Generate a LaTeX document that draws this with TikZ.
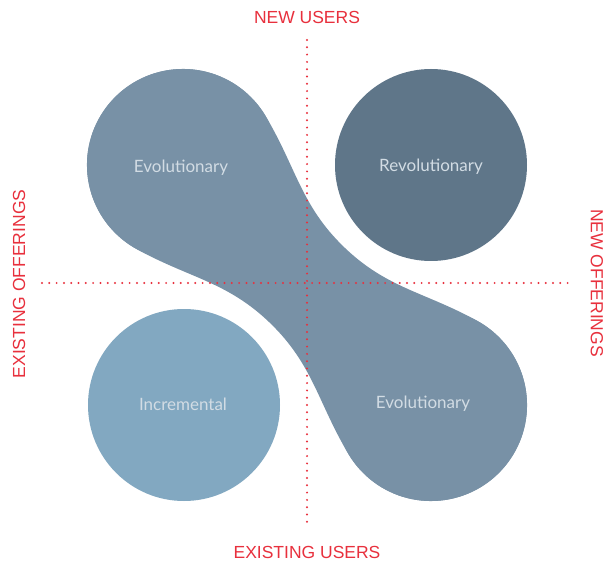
\documentclass[tikz,border=0pt]{standalone}
\usepackage{fontspec}
\setmainfont{Liberation Sans}
\newfontfamily\innerfont{Lato}
\definecolor{evo}{HTML}{7891A6}
\definecolor{rev}{HTML}{5F7689}
\definecolor{inc}{HTML}{82A8C1}
\definecolor{innertext}{HTML}{D2DCE4}
\definecolor{axisred}{HTML}{E8303D}
\begin{document}
\begin{tikzpicture}[x=1pt,y=-1pt,
  blob/.style={circle, minimum size=192, inner sep=0pt, text=innertext,
    font=\innerfont\fontsize{17}{20}\selectfont},
  axislabel/.style={text=axisred, inner sep=0pt,
    font=\fontsize{17.5}{20}\selectfont},
  dotline/.style={draw=axisred, line width=2.2pt, line cap=round,
    dash pattern=on 0pt off 7.3pt}]
\useasboundingbox (0,0) rectangle (608,564);
\fill[white] (0,0) rectangle (608,564);
% neck joining the two evolutionary circles
\begin{scope}[shift={(307,285)}, rotate=-44.06]
\fill[evo] (-147.75,-92.73) .. controls (-89.8,-77.2) and (-60,-53) .. (0,-53)
  .. controls (60,-53) and (89.8,-77.2) .. (147.75,-92.73)
  arc[start angle=-105, end angle=105, radius=96]
  .. controls (89.8,77.2) and (60,53) .. (0,53)
  .. controls (-60,53) and (-89.8,77.2) .. (-147.75,92.73)
  arc[start angle=75, end angle=285, radius=96] -- cycle;
\end{scope}
\node[blob, fill=evo] (evotl) at (183,165) {};
\node[blob, fill=rev] (revtr) at (431,165) {};
\node[blob, fill=inc] (incbl) at (184,405) {};
\node[blob, fill=evo] (evobr) at (431,405) {};
\node[blob, minimum size=0pt] (evotltext) at (181,168) {Evolutionary};
\node[blob, minimum size=0pt] (revtrtext) at (431,167) {Revolutionary};
\node[blob, minimum size=0pt] (incbltext) at (183,404) {Incremental};
\node[blob, minimum size=0pt] (evobrtext) at (423,404) {Evolutionary};
% axes
\coordinate (vtop) at (307,40);
\coordinate (vbot) at (307,528);
\coordinate (hleft) at (42,283);
\coordinate (hright) at (573,283);
\draw[dotline] (vtop) -- (vbot);
\draw[dotline] (hleft) -- (hright);
\node[axislabel] (newusers) at (307,17) {NEW USERS};
\node[axislabel] (existusers) at (307,552) {EXISTING USERS};
\node[axislabel, rotate=90] (existoff) at (19,284) {EXISTING OFFERINGS};
\node[axislabel, rotate=-90] (newoff) at (597,283) {NEW OFFERINGS};
\end{tikzpicture}
\end{document}
